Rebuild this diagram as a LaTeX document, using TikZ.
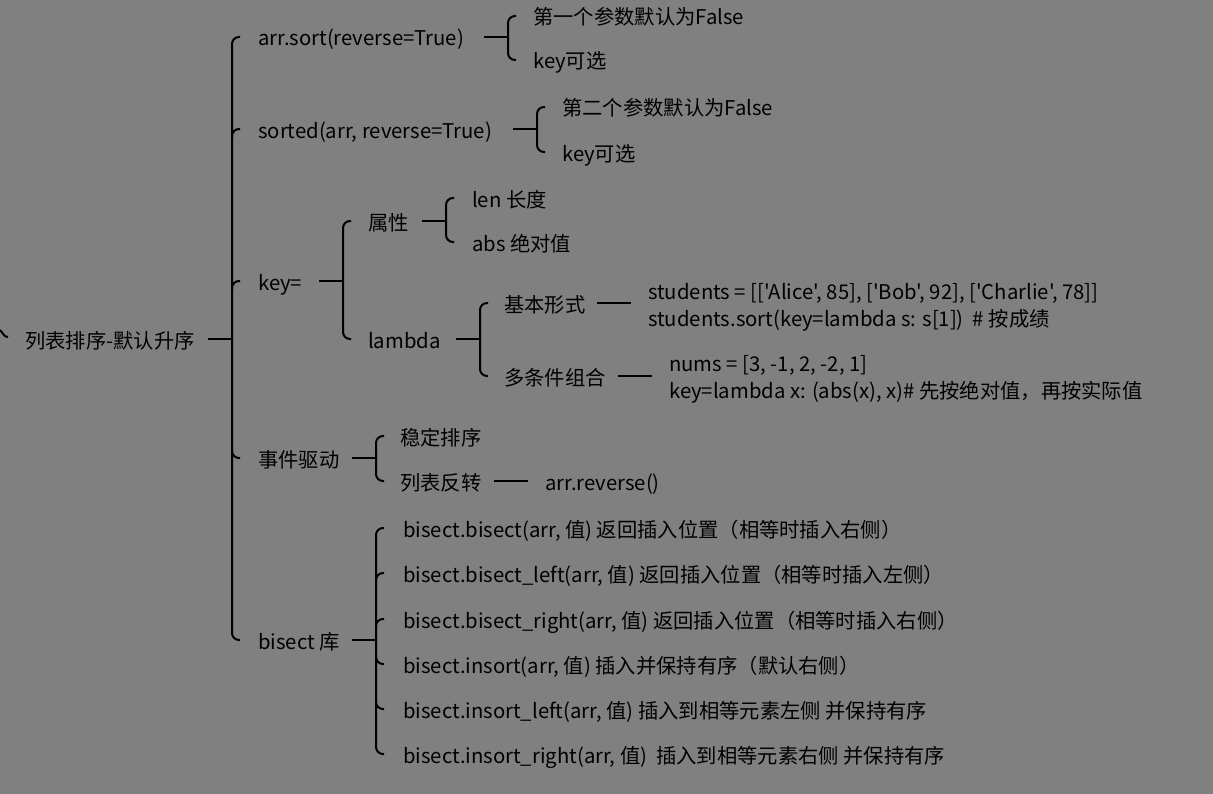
\documentclass[tikz,border=0pt]{standalone}
\usepackage{fontspec}
\newfontfamily\cjk{Noto Sans CJK SC}[Ligatures=TeXOff]
\usetikzlibrary{calc}
\definecolor{bg}{RGB}{128,128,128}
\tikzset{
  lbl/.style={anchor=west, inner sep=0pt, font=\cjk\fontsize{20.3bp}{24bp}\selectfont, text=black, text height=20bp, text depth=2bp},
  code/.style={anchor=west, inner sep=0pt, text=black, align=left, font=\cjk\fontsize{20.3bp}{27bp}\selectfont},
  conn/.style={line width=2bp, black},
  brak/.style={conn, rounded corners=7bp},
}
% parent stub: node, bracket coordinate
\newcommand\mystub[2]{\draw[conn] ($(#1.east -| #2)+(-24,0)$) -- (#1.east -| #2);}
% bracket from first child to last child at bracket coordinate
\newcommand\mybend[3]{\draw[brak] ($(#1.west -| #3)+(8,0)$) -- (#1.west -| #3) -- (#2.west -| #3) -- ($(#2.west -| #3)+(8,0)$);}
\newcommand\mytickup[2]{\draw[brak] ($(#1.west -| #2)+(0,-9)$) -- (#1.west -| #2) -- ($(#1.west -| #2)+(8,0)$);}
\newcommand\mytickdn[2]{\draw[brak] ($(#1.west -| #2)+(0,9)$) -- (#1.west -| #2) -- ($(#1.west -| #2)+(8,0)$);}
\newcommand\mylink[2]{\draw[conn] ($(#2.west |- #1.east)+(-51,0)$) -- ($(#2.west |- #1.east)+(-17,0)$);}
\begin{document}
\begin{tikzpicture}[x=1bp,y=1bp]
\fill[bg] (0,0) rectangle (1213,-794);
\useasboundingbox (0,0) rectangle (1213,-794);

\coordinate (B0) at (232,0);
\coordinate (B1) at (508,0);
\coordinate (B2) at (537,0);
\coordinate (B3) at (343,0);
\coordinate (B4) at (446,0);
\coordinate (B5) at (480,0);
\coordinate (B6) at (376,0);
\coordinate (B7) at (376,0);

\node[lbl] (root) at (25,-339) {列表排序-默认升序};

\node[lbl] (a1) at (258,-37) {arr.sort(reverse=True)};
\node[lbl] (a1a) at (533,-16) {第一个参数默认为False};
\node[lbl] (a1b) at (533,-60) {key可选};

\node[lbl] (a2) at (258,-129) {sorted(arr, reverse=True)};
\node[lbl] (a2a) at (562,-107) {第二个参数默认为False};
\node[lbl] (a2b) at (562,-152) {key可选};

\node[lbl] (a3) at (258,-281) {key=};
\node[lbl] (a3a) at (368,-221) {属性};
\node[lbl] (a3a1) at (472,-198) {len 长度};
\node[lbl] (a3a2) at (472,-242) {abs 绝对值};
\node[lbl] (a3b) at (368,-339) {lambda};
\node[lbl] (a3b1) at (504,-303) {基本形式};
\node[code] (a3b1x) at (648,-307) {students = [['Alice', 85], ['Bob', 92], ['Charlie', 78]]\\students.sort(key=lambda s: s[1])~ \# 按成绩};
\node[lbl] (a3b2) at (504,-376) {多条件组合};
\node[code] (a3b2x) at (669,-379) {nums = [3, -1, 2, -2, 1]\\key=lambda x: (abs(x), x)\# 先按绝对值，再按实际值};

\node[lbl] (a4) at (258,-458) {事件驱动};
\node[lbl] (a4a) at (400,-436) {稳定排序};
\node[lbl] (a4b) at (400,-481) {列表反转};
\node[lbl] (a4b1) at (545,-481) {arr.reverse()};

\node[lbl] (a5) at (258,-640) {bisect 库};
\node[lbl] (b1) at (403,-528) {bisect.bisect(arr, 值) 返回插入位置（相等时插入右侧）};
\node[lbl] (b2) at (403,-573) {bisect.bisect\_left(arr, 值) 返回插入位置（相等时插入左侧）};
\node[lbl] (b3) at (403,-619) {bisect.bisect\_right(arr, 值) 返回插入位置（相等时插入右侧）};
\node[lbl] (b4) at (403,-664) {bisect.insort(arr, 值) 插入并保持有序（默认右侧）};
\node[lbl] (b5) at (403,-709) {bisect.insort\_left(arr, 值) 插入到相等元素左侧 并保持有序};
\node[lbl] (b6) at (403,-754) {bisect.insort\_right(arr, 值)~ 插入到相等元素右侧 并保持有序};

% fragment at left edge
\draw[conn] (0,-330) .. controls (3,-333) and (4,-337) .. (8,-337);

% root
\mystub{root}{B0}
\mybend{a1}{a5}{B0}
\mytickup{a2}{B0}
\mytickup{a3}{B0}
\mytickdn{a4}{B0}

\mystub{a1}{B1}
\mybend{a1a}{a1b}{B1}

\mystub{a2}{B2}
\mybend{a2a}{a2b}{B2}

\mystub{a3}{B3}
\mybend{a3a}{a3b}{B3}

\mystub{a3a}{B4}
\mybend{a3a1}{a3a2}{B4}

\mystub{a3b}{B5}
\mybend{a3b1}{a3b2}{B5}
\mylink{a3b1}{a3b1x}
\mylink{a3b2}{a3b2x}

\mystub{a4}{B6}
\mybend{a4a}{a4b}{B6}
\mylink{a4b}{a4b1}

\mystub{a5}{B7}
\mybend{b1}{b6}{B7}
\mytickup{b2}{B7}
\mytickup{b3}{B7}
\mytickdn{b4}{B7}
\mytickdn{b5}{B7}
\end{tikzpicture}
\end{document}
